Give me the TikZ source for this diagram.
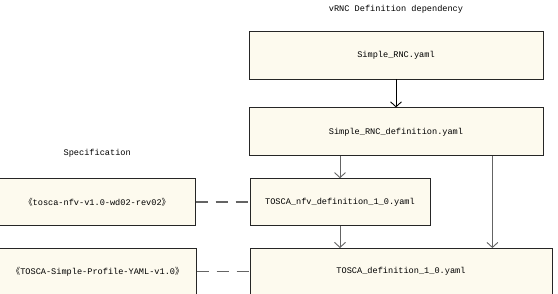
\documentclass[tikz,border=0pt]{standalone}
\usepackage{fontspec}
\setmonofont{Liberation Mono}
\newfontfamily\cjk{Noto Sans CJK SC}
\usepackage{tikz}
\usetikzlibrary{arrows.meta, positioning, calc}
\definecolor{filecream}{RGB}{253,250,238}
\definecolor{linegray}{RGB}{100,100,100}
\tikzstyle{arrow} = [line width=0.9pt, -{Straight Barb[length=5pt,width=11pt]}]

\begin{document}
\begin{tikzpicture}[
        font=\ttfamily\fontsize{8.6}{10}\selectfont,
        base/.style   ={draw=black!85, line width=0.8pt, fill=filecream, align=center,
                        inner sep=0pt, minimum height=48pt},
        yamlfile/.style={base, minimum width=294pt},
        specdoc/.style ={base, minimum width=196pt, minimum height=47pt},
        caption/.style ={inner sep=0pt},
        link/.style    ={linegray, line width=1.6pt, dash pattern=on 12pt off 8pt}
    ]
    \useasboundingbox (0pt,0pt) rectangle (558pt,-293pt);

    % --- files ---
    \node[yamlfile] (rnc) at (396pt,-55pt) {Simple\_RNC.yaml};
    \node[caption, above=17pt of rnc] (title) {vRNC Definition dependency};

    \node[yamlfile, below=28pt of rnc] (rncdef) {Simple\_RNC\_definition.yaml};

    \node[yamlfile, minimum width=180pt, minimum height=47pt,
          below=22pt of rncdef.south west, anchor=north west, xshift=1pt] (nfvdef)
          {TOSCA\_nfv\_definition\_1\_0.yaml};

    \node[yamlfile, minimum width=302pt, minimum height=46pt,
          below=22pt of nfvdef.south west, anchor=north west] (toscadef)
          {TOSCA\_definition\_1\_0.yaml};

    % --- specification ---
    \node[specdoc, left=54pt of nfvdef] (nfvspec) {{\cjk 《}tosca-nfv-v1.0-wd02-rev02{\cjk 》}};
    \node[caption, above=21pt of nfvspec] (spectitle) {Specification};
    \node[specdoc, minimum width=197pt, left=53pt of toscadef] (yamlspec)
          {{\cjk 《}TOSCA-Simple-Profile-YAML-v1.0{\cjk 》}};

    % --- arrows ---
    \draw[arrow] (rnc) -- (rncdef);
    \draw[arrow, linegray] (rncdef.south -| nfvdef.north) -- (nfvdef.north);
    \draw[arrow, linegray] (nfvdef.south) -- (nfvdef.south |- toscadef.north);
    \coordinate (side) at ($(rncdef.south east)+(-51pt,0)$);
    \draw[arrow, linegray] (side) -- (side |- toscadef.north);

    \draw[link] (nfvspec) -- (nfvdef);
    \draw[link] (yamlspec) -- (toscadef);

\end{tikzpicture}
\end{document}
